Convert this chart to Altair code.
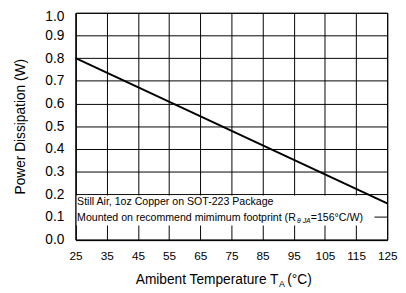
import altair as alt
import pandas as pd

# data
temps = [25, 125]
power = [0.80, 0.16]
x_ticks = [25, 35, 45, 55, 65, 75, 85, 95, 105, 115, 125]
y_ticks = [0.0, 0.1, 0.2, 0.3, 0.4, 0.5, 0.6, 0.7, 0.8, 0.9, 1.0]
note1 = "Still Air, 1oz Copper on SOT-223 Package"
note2 = "Mounted on recommend mimimum footprint (R"
note2_sub = "θ JA"
note2_end = "=156°C/W)"
xtitle_main = "Amibent Temperature T"
xtitle_sub = "A"
xtitle_end = " (°C)"
ytitle = "Power Dissipation (W)"

FONT = "Liberation Sans"
W, H = 318, 231.5
NF = 10.8

df = pd.DataFrame({"T": temps, "P": power})
one = pd.DataFrame({"k": [0]})

xaxis = alt.Axis(values=x_ticks, title=None, grid=True, gridColor="black", gridOpacity=1,
                 gridWidth=1, tickSize=0, labelPadding=11, labelFontSize=12, labelFont=FONT,
                 labelColor="black", domainColor="black", domainWidth=1, format="d",
                 labelFlush=False, labelOverlap=False)
yaxis = alt.Axis(values=y_ticks, title=ytitle, grid=True, gridColor="black", gridOpacity=1,
                 gridWidth=1, tickSize=0, labelPadding=12, labelFontSize=14, labelFont=FONT,
                 labelColor="black", domainColor="black", domainWidth=1, format=".1f",
                 labelBaseline={"condition": {"test": "datum.value >= 1", "value": "top"},
                                "value": "middle"},
                 labelOffset={"condition": {"test": "datum.value >= 1", "value": -3},
                              "value": 0},
                 labelFlush=False, labelOverlap=False, titleFont=FONT, titleFontSize=14,
                 titleFontWeight="normal", titleColor="black", titlePadding=18)

box = alt.Chart(one).mark_rect(fill="white").encode(
    x=alt.value(1), x2=alt.value(305), y=alt.value(186.5), y2=alt.value(217)
)

line = alt.Chart(df).mark_line(color="black", strokeWidth=2).encode(
    x=alt.X("T:Q", scale=alt.Scale(domain=[25, 125], nice=False, zero=False), axis=xaxis),
    y=alt.Y("P:Q", scale=alt.Scale(domain=[0, 1], nice=False), axis=yaxis),
)


def txt(s, x, y, size, align="left", style="normal"):
    return alt.Chart(one).mark_text(text=s, font=FONT, fontSize=size, color="black",
                                    align=align, baseline="alphabetic",
                                    fontStyle=style).encode(
        x=alt.value(x), y=alt.value(y))


t1 = txt(note1, 1.5, 196.5, NF)
t2 = txt(note2, 1.5, 212, NF)
t2s = txt(note2_sub, 226, 214.5, 7, style="italic")
t2e = txt(note2_end, 240, 212, NF)

xt1 = txt(xtitle_main, 207, 277, 14, align="right")
xt2 = txt(xtitle_sub, 207.5, 280, 9)
xt3 = txt(xtitle_end, 216, 277, 14)

chart = alt.layer(box, line, t1, t2, t2s, t2e, xt1, xt2, xt3).properties(
    width=W, height=H,
    autosize=alt.AutoSizeParams(type="none"),
    padding={"left": 69, "top": 2, "right": 11, "bottom": 49},
).configure_view(stroke="black", strokeWidth=1)

chart.save("out.html", embed_options={"renderer": "svg", "actions": False})
